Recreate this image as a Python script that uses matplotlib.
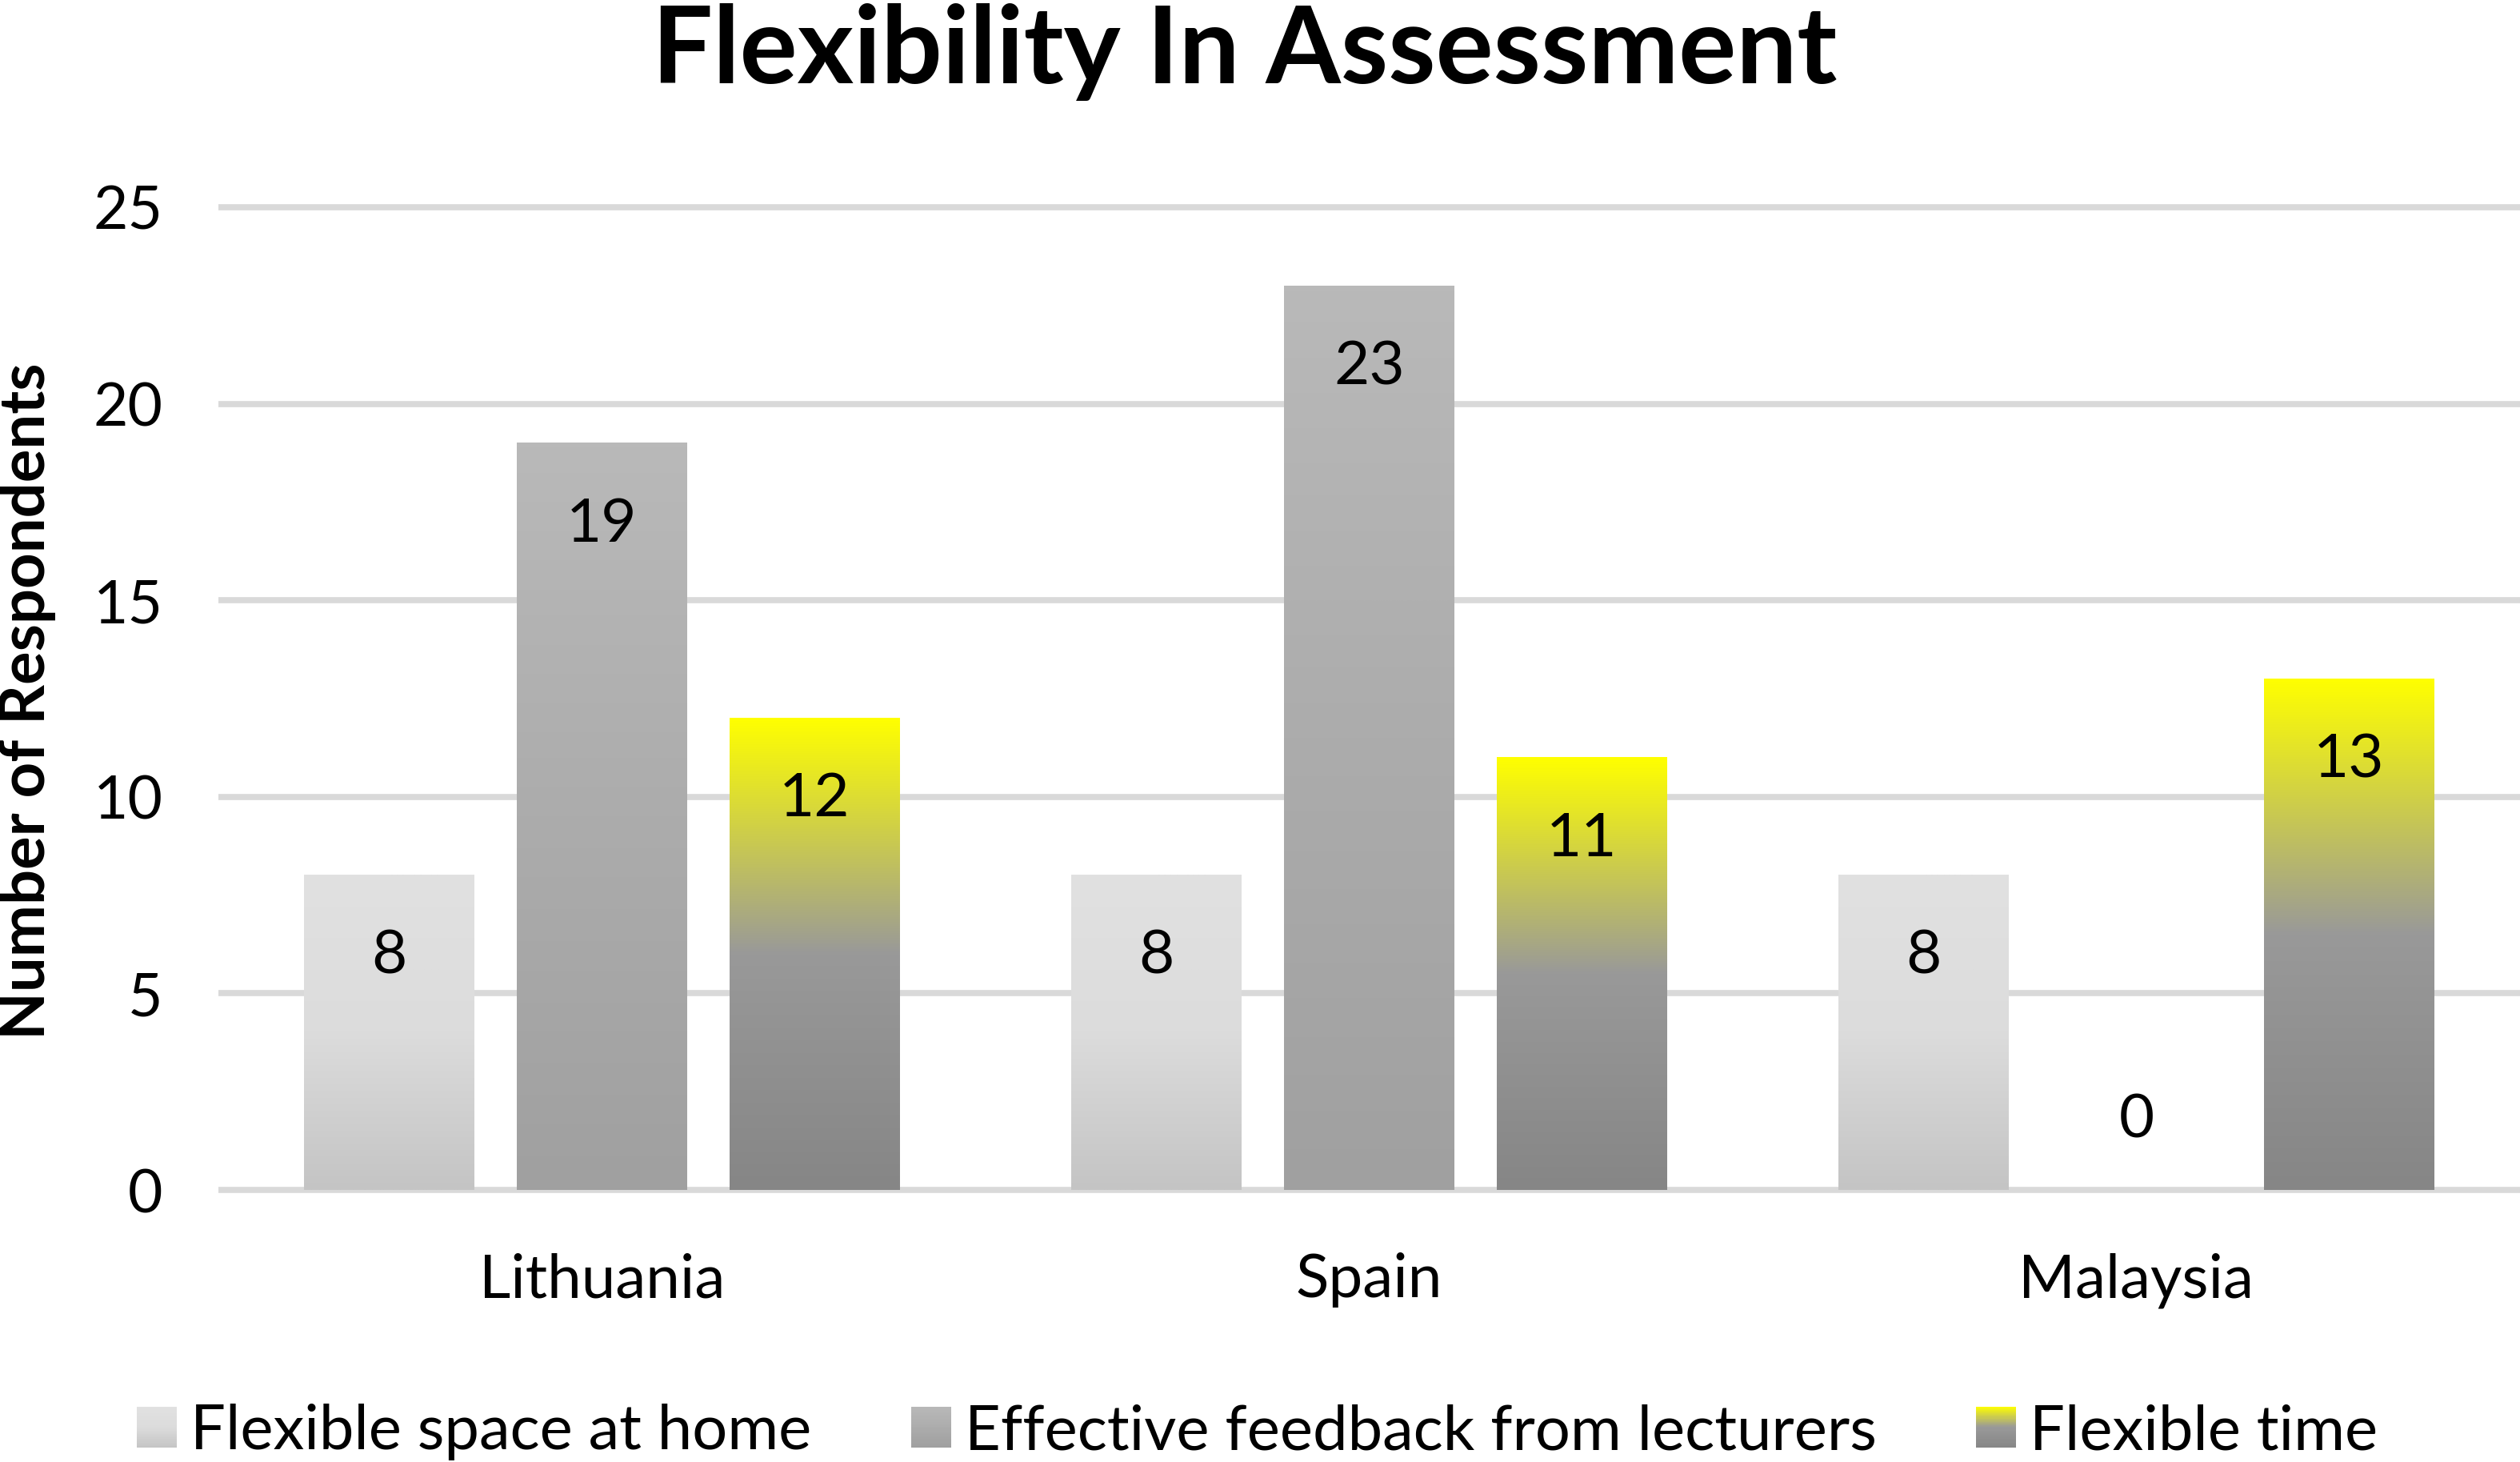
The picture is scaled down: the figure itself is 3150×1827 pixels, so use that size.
import numpy as np
import matplotlib
matplotlib.use("Agg")
import matplotlib.pyplot as plt
from matplotlib.colors import LinearSegmentedColormap
from matplotlib.patches import Rectangle
from matplotlib.legend_handler import HandlerBase

# ---- data ----
categories = ["Lithuania", "Spain", "Malaysia"]
series_names = ["Flexible space at home", "Effective feedback from lecturers", "Flexible time"]
space_at_home = [8, 8, 8]
feedback = [19, 23, 0]
flexible_time = [12, 11, 13]
yticks = [0, 5, 10, 15, 20, 25]
title = "Flexibility In Assessment"
ylabel = "Number of Respondents"

# ---- styles ----
grad_stops = [
    [(0.0, "#e1e1e1"), (0.5, "#dcdcdc"), (1.0, "#c4c4c4")],
    [(0.0, "#b9b9b9"), (0.5, "#acacac"), (1.0, "#a0a0a0")],
    [(0.0, "#ffff00"), (0.5, "#999999"), (1.0, "#868686")],
]
cmaps = [LinearSegmentedColormap.from_list(f"g{i}", s) for i, s in enumerate(grad_stops)]

FONT = "Lato"
plt.rcParams["font.family"] = [FONT, "DejaVu Sans"]

fig = plt.figure(figsize=(31.5, 18.27), dpi=100)
ax = fig.add_axes([273 / 3150, 0.1820, 1 - 273 / 3150, 0.6803])

x = np.arange(len(categories))
bw = 0.222
offsets = [-0.277, 0.0, 0.277]
all_series = [space_at_home, feedback, flexible_time]

grad = np.linspace(0, 1, 256)[:, None]
for s, (vals, off, cm) in enumerate(zip(all_series, offsets, cmaps)):
    bars = ax.bar(x + off, vals, width=bw, color="none", edgecolor="none", zorder=2)
    for rect, v in zip(bars, vals):
        x0 = rect.get_x()
        w = rect.get_width()
        h = rect.get_height()
        if h > 0:
            ax.imshow(grad, cmap=cm, vmin=0, vmax=1, origin="upper", aspect="auto",
                      extent=(x0, x0 + w, 0, h), zorder=2, interpolation="bilinear")
        cx = x0 + w / 2
        if v > 0:
            ax.annotate(str(v), (cx, v), xytext=(0, -73), textcoords="offset points",
                        ha="center", va="center", fontsize=55, color="#000000", zorder=4)
        else:
            ax.annotate(str(v), (cx, v), xytext=(0, 63), textcoords="offset points",
                        ha="center", va="center", fontsize=55, color="#000000", zorder=4)

ax.set_xlim(-0.5, 2.5)
ax.set_ylim(-0.15, 25.15)
ax.set_yticks(yticks)
ax.set_yticklabels([str(t) for t in yticks], fontsize=54)
ax.set_xticks(x)
ax.set_xticklabels(categories, fontsize=55)
ax.tick_params(axis="y", length=0, pad=50)
ax.tick_params(axis="x", length=0, pad=51)
ax.grid(axis="y", color="#d9d9d9", linewidth=5.5, zorder=0)
ax.set_axisbelow(True)
for sp in ax.spines.values():
    sp.set_visible(False)

fig.text(0.494, 1 - 104 / 1827, title, ha="center", va="baseline",
         fontsize=97, fontweight="bold")
fig.text(34 / 3150, 1 - 876 / 1827, ylabel, ha="center", va="center",
         rotation=90, fontsize=56, fontweight="bold")


class GradHandler(HandlerBase):
    def __init__(self, cmap):
        super().__init__()
        self.cmap = cmap

    def create_artists(self, legend, orig_handle, xdescent, ydescent, width, height,
                       fontsize, trans):
        n = 24
        arts = []
        for i in range(n):
            frac = (i + 0.5) / n
            y0 = -ydescent + height * (1 - (i + 1) / n)
            r = Rectangle((-xdescent, y0), width, height / n + 0.3,
                          facecolor=self.cmap(frac), edgecolor="none", transform=trans)
            arts.append(r)
        return arts


handles = [Rectangle((0, 0), 1, 1) for _ in series_names]
leg = fig.legend(handles, series_names, loc="center", bbox_to_anchor=(0.499, 0.0205),
                 ncol=3, frameon=False, fontsize=56, handlelength=0.64, handleheight=0.64,
                 handletextpad=0.22, columnspacing=1.6,
                 handler_map={h: GradHandler(cm) for h, cm in zip(handles, cmaps)})

fig.savefig("out.png", dpi=100, facecolor="white")
